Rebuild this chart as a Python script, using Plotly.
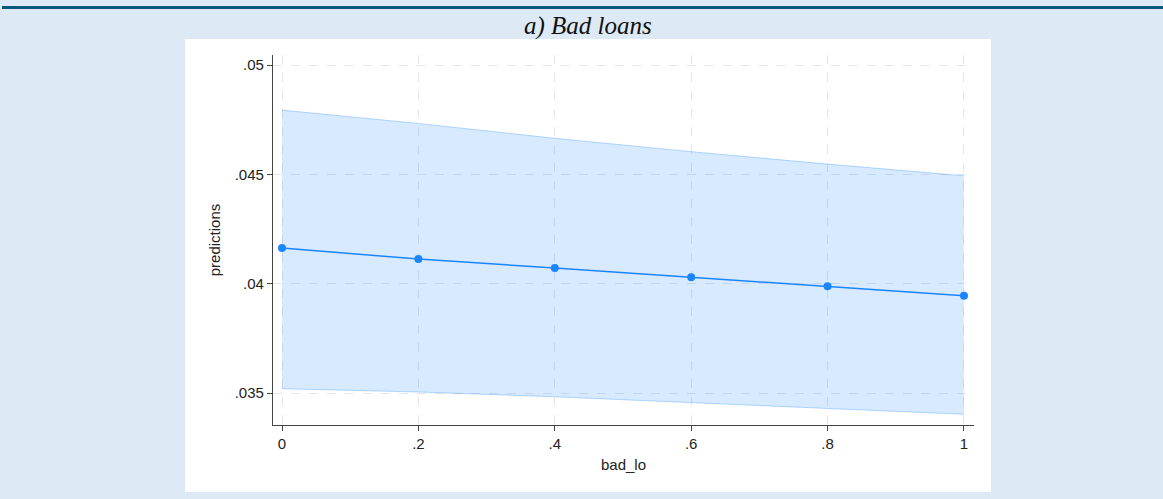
import plotly.graph_objects as go

bad_lo = [0, 0.2, 0.4, 0.6, 0.8, 1.0]
predictions = [0.04163, 0.04113, 0.04072, 0.04030, 0.03988, 0.03945]
ci_upper = [0.04794, 0.04733, 0.04665, 0.04604, 0.04547, 0.04494]
ci_lower = [0.03520, 0.03505, 0.03483, 0.03456, 0.03430, 0.03403]
x_ticks = [0, 0.2, 0.4, 0.6, 0.8, 1.0]
x_ticklabels = ["0", ".2", ".4", ".6", ".8", "1"]
y_ticks = [0.035, 0.04, 0.045, 0.05]
y_ticklabels = [".035", ".04", ".045", ".05"]

W, H = 1163, 499
def px(x): return x / W
def py(y): return 1 - y / H

LINE = "#1a85ff"
fig = go.Figure()
fig.add_trace(go.Scatter(x=bad_lo, y=ci_upper, mode="lines",
                         line=dict(color="rgba(26,133,255,0.30)", width=1),
                         showlegend=False, hoverinfo="skip"))
fig.add_trace(go.Scatter(x=bad_lo, y=ci_lower, mode="lines",
                         line=dict(color="rgba(26,133,255,0.30)", width=1),
                         fill="tonexty", fillcolor="rgba(26,133,255,0.17)",
                         showlegend=False, hoverinfo="skip"))
fig.add_trace(go.Scatter(x=bad_lo, y=predictions, mode="lines+markers",
                         line=dict(color=LINE, width=1.5),
                         marker=dict(color=LINE, size=8),
                         showlegend=False))

axfont = dict(family="Liberation Sans, Arial, sans-serif", size=15, color="#222")
fig.update_layout(
    width=W, height=H, autosize=False,
    margin=dict(l=0, r=0, t=0, b=0),
    paper_bgcolor="#dde9f5", plot_bgcolor="white",
    xaxis=dict(domain=[px(273), px(974)], range=[-0.0132, 1.0147],
               tickvals=x_ticks, ticktext=x_ticklabels, ticks="outside", ticklen=5,
               tickcolor="#444", showline=True, linecolor="#444", linewidth=1.2,
               showgrid=True, gridcolor="#e6e6e6", griddash="dash", gridwidth=1,
               zeroline=False, tickfont=axfont,
               title=dict(text="bad_lo", font=axfont, standoff=8)),
    yaxis=dict(domain=[py(425), py(55)], range=[0.03354, 0.05046],
               tickvals=y_ticks, ticktext=y_ticklabels, ticks="outside", ticklen=5,
               tickcolor="#444", showline=True, linecolor="#444", linewidth=1.2,
               showgrid=True, gridcolor="#e6e6e6", griddash="dash", gridwidth=1,
               zeroline=False, tickfont=axfont,
               title=dict(text="predictions", font=axfont, standoff=10)),
    shapes=[
        dict(type="rect", xref="paper", yref="paper", layer="below",
             x0=px(185), x1=px(991), y0=py(492), y1=py(39),
             fillcolor="white", line=dict(width=0)),
        dict(type="line", xref="paper", yref="paper",
             x0=px(2), x1=1, y0=py(7.5), y1=py(7.5),
             line=dict(color="#005a7c", width=3)),
    ],
    annotations=[
        dict(text="<i>a) Bad loans</i>", xref="paper", yref="paper",
             x=px(588), y=py(26), xanchor="center", yanchor="middle",
             showarrow=False,
             font=dict(family="Liberation Serif, Times New Roman, serif", size=25, color="#111")),
    ],
)
fig.write_html("out.html")
